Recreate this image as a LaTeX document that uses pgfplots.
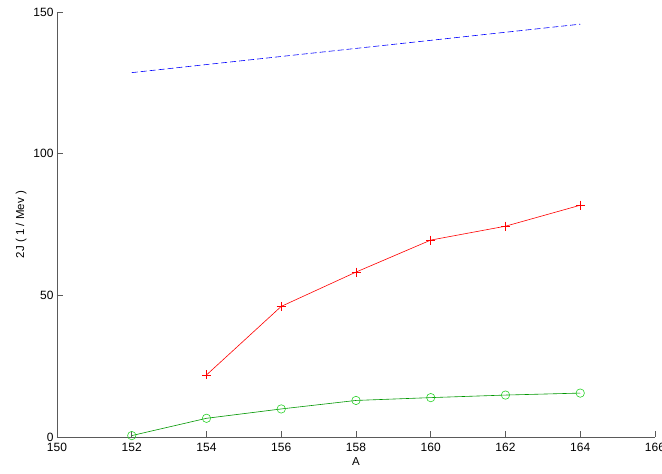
\documentclass[border=0pt]{standalone}
\usepackage{pgfplots}
\pgfplotsset{compat=1.18}
\usepackage{fontspec}
\setmainfont{Liberation Sans}
\definecolor{axgray}{RGB}{90,90,90}
\definecolor{mgreen}{RGB}{0,150,0}
\definecolor{mkgreen}{RGB}{40,210,40}
\begin{document}
\begin{tikzpicture}
\path[use as bounding box] (-57pt,-37pt) rectangle (605pt,437pt);
\begin{axis}[
  at={(0pt,0pt)}, anchor=south west,
  scale only axis, width=598pt, height=425pt,
  xmin=150, xmax=166, ymin=0, ymax=150,
  xtick={150,152,...,166}, ytick={0,50,100,150},
  axis x line=bottom, axis y line=left,
  axis line style={axgray, -, line width=0.8pt},
  tick align=inside, major tick length=6pt,
  tick style={axgray, line width=0.8pt},
  tick label style={font=\fontsize{12}{14}\selectfont},
  /pgf/number format/assume math mode=true,
  /pgf/number format/1000 sep={},
  xlabel={A}, ylabel={2J ( 1 / Mev )},
  label style={font=\fontsize{11.5}{14}\selectfont},
  xlabel style={yshift=1pt},
  xticklabel style={yshift=-3pt},
]
\addplot[blue, dash pattern=on 6pt off 3pt, line width=0.6pt] coordinates {(152,128.6) (164,145.7)};
\addplot[red, line width=0.6pt, mark=+, mark size=4.5pt, mark options={solid, line width=0.6pt}] coordinates {
(154,21.9) (156,46.1) (158,58.2) (160,69.5) (162,74.4) (164,81.8)};
\addplot[mgreen, line width=0.6pt, mark=o, mark size=4.2pt, mark options={draw=mkgreen, line width=0.6pt}] coordinates {
(152,0.5) (154,6.6) (156,9.9) (158,12.9) (160,13.9) (162,14.8) (164,15.5)};
\end{axis}
\end{tikzpicture}
\end{document}
